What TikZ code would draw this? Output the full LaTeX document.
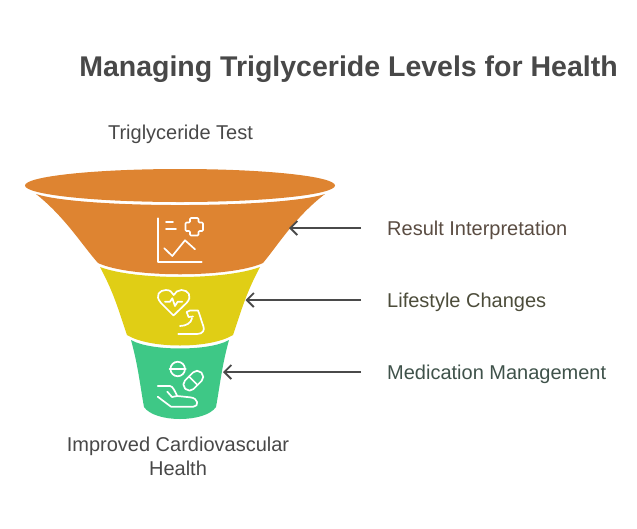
\documentclass[tikz,border=0pt]{standalone}
\usepackage{fontspec}
\setmainfont{Liberation Sans}
\usetikzlibrary{arrows.meta}
\definecolor{orangefun}{HTML}{DE8431}
\definecolor{yellowfun}{HTML}{E0CE15}
\definecolor{greenfun}{HTML}{3EC886}
\definecolor{titlegray}{HTML}{484848}
\definecolor{arrowgray}{HTML}{4A4A4A}
\definecolor{resulttext}{HTML}{5A4C42}
\definecolor{lifestyletext}{HTML}{4C4C3A}
\definecolor{medicationtext}{HTML}{3F524A}
\begin{document}
\begin{tikzpicture}[x=1pt, y=-1pt, > = {Straight Barb[length=7pt,width=14pt]},
    pointer/.style = {draw=arrowgray, line width=1.9pt, ->},
    glyph/.style = {draw=white, line width=1.7pt, line cap=round, line join=round},
    caption/.style = {font=\fontsize{20}{24}\selectfont, inner sep=0pt, align=center},
    sidelabel/.style = {caption, anchor=west, inner xsep=26pt, inner ysep=0pt, text height=14pt, text depth=0pt}]

    \useasboundingbox (0,0) rectangle (637,528);

    % title
    \node[font=\fontsize{28.5}{34}\selectfont\bfseries, text=titlegray, inner sep=0pt] (title) at (348.5,69) {Managing Triglyceride Levels for Health};

    % funnel
    \fill[orangefun] (180,185.5) ellipse [x radius=155, y radius=16.5];
    \fill[orangefun] (36,194) .. controls (80,208.7) and (280,208.7) .. (325,194)
        .. controls (295,217) and (278,245) .. (263,263)
        .. controls (230,278) and (130,278) .. (98,263)
        .. controls (82,245) and (65,217) .. (36,194) -- cycle;
    \fill[yellowfun] (100,267) .. controls (135,280.3) and (225,280.3) .. (260,267)
        .. controls (245,295) and (240,315) .. (233,335)
        .. controls (210,349) and (150,349) .. (127,335)
        .. controls (120,315) and (115,295) .. (100,267) -- cycle;
    \fill[greenfun] (131,340) .. controls (150,351.3) and (210,351.3) .. (229,340)
        .. controls (222,365) and (220,385) .. (216,407)
        .. controls (205,423) and (155,423) .. (144,407)
        .. controls (140,385) and (138,365) .. (131,340) -- cycle;

    % chart icon
    \draw[glyph] (157.7,218.3) -- (157.7,261.7) -- (201.7,261.7);
    \draw[glyph] (166,222.3) -- (173,222.3) (166,229.3) -- (176,229.3);
    \draw[glyph] (164.3,248.3) -- (172.3,256) -- (185,240.3) -- (195,249.3);
    \draw[glyph, rounded corners=1pt] (190,218) -- (198.5,218) -- (198.5,222.5) -- (203,222.5) -- (203,231) -- (198.5,231) -- (198.5,235.5) -- (190,235.5) -- (190,231) -- (185.5,231) -- (185.5,222.5) -- (190,222.5) -- cycle;

    % heart and arm icon
    \draw[glyph] (173.5,315.5) -- (161,303) .. controls (154,295) and (160,290) .. (166,290)
        .. controls (170,290) and (172,292) .. (173.7,295)
        .. controls (175.5,292) and (178,290) .. (181.5,290)
        .. controls (188,290) and (193,296) .. (186.5,303) -- cycle;
    \draw[glyph] (165,301.7) -- (170,301.7) -- (172.3,298.3) -- (175,306) -- (177.7,301.7) -- (182.3,301.7);
    \draw[glyph] (178.3,334) -- (197,334) .. controls (203,334) and (205,330) .. (203.3,326)
        .. controls (201,320) and (200,315) .. (198,310.5) -- (190,310.5) -- (186.7,312) -- (188.5,317) -- (193,316.5)
        (192,318.5) .. controls (191,323) and (186,326) .. (180,326);

    % pill and hand icon
    \node[circle, glyph, minimum size=14.5pt, inner sep=0pt] (tablet) at (177.7,369) {};
    \draw[glyph] (tablet.west) -- (tablet.east);
    \draw[glyph, rounded corners=5.5pt, rotate around={45:(193.3,380.7)}] (182,374.7) rectangle (204.6,386.7);
    \draw[glyph] (189,376.5) -- (197.5,385);
    \draw[glyph] (157.7,386) -- (170,386) .. controls (173,386) and (175,392) .. (177.3,396)
        -- (190,397.3) .. controls (199,398) and (199,406.7) .. (193.3,406.7) -- (171,406.7) -- (157.7,396.7);
    \draw[glyph] (167.3,391.7) -- (172,397) -- (177.3,396);

    % labels
    \node[caption, text=titlegray] (top) at (180.5,134.5) {Triglyceride Test};
    \node[caption, text=titlegray] (bottom) at (178,456.5) {Improved Cardiovascular\\Health};
    \node[sidelabel, text=resulttext] (result) at (361,228) {Result Interpretation};
    \node[sidelabel, text=lifestyletext] (lifestyle) at (361,300) {Lifestyle Changes};
    \node[sidelabel, text=medicationtext] (medication) at (361,372) {Medication Management};

    % pointers
    \coordinate (resulttip) at (289,228);
    \coordinate (lifestyletip) at (245.5,300);
    \coordinate (medicationtip) at (223,372);
    \draw[pointer] (result.west) -- (resulttip);
    \draw[pointer] (lifestyle.west) -- (lifestyletip);
    \draw[pointer] (medication.west) -- (medicationtip);

    \end{tikzpicture}
\end{document}
